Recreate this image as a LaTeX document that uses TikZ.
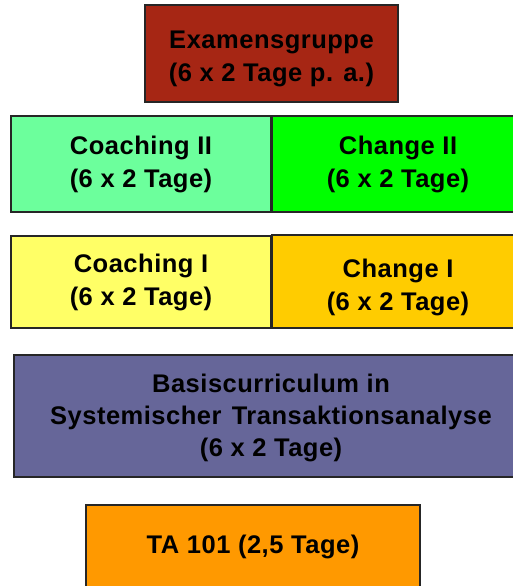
\documentclass[tikz,border=0pt]{standalone}
\usepackage{fontspec}
\setmainfont{Liberation Sans}[LetterSpace=2]
\definecolor{cExam}{RGB}{166,38,20}
\definecolor{cCoachII}{RGB}{108,255,156}
\definecolor{cChangeII}{RGB}{0,255,0}
\definecolor{cCoachI}{RGB}{255,255,102}
\definecolor{cChangeI}{RGB}{255,204,0}
\definecolor{cBasis}{RGB}{102,102,153}
\definecolor{cTA}{RGB}{255,153,0}
\tikzset{
  box/.style={draw=black!85, line width=1.5pt, inner sep=0pt, rectangle},
  txt/.style={align=center, inner sep=0pt, font=\fontsize{25.5}{33}\selectfont\bfseries},
}
\begin{document}
\begin{tikzpicture}[x=1pt,y=-1pt]
\useasboundingbox (0,0) rectangle (513,586);
\clip (0,0) rectangle (513,586);
\fill[white] (0,0) rectangle (513,586);
% boxes
\node[box, fill=cExam, minimum width=253pt, minimum height=97pt] (exam) at (271.5,53.5) {};
\node[box, fill=cCoachII, minimum width=260pt, minimum height=96pt] (coachII) at (141,164) {};
\node[box, fill=cChangeII, minimum width=252pt, minimum height=96pt] (changeII) at (398,164) {};
\node[box, fill=cCoachI, minimum width=260pt, minimum height=92pt] (coachI) at (141,282) {};
\node[box, fill=cChangeI, minimum width=252pt, minimum height=93pt] (changeI) at (398,281.5) {};
\node[box, fill=cBasis, minimum width=514pt, minimum height=122pt] (basis) at (271,416) {};
\node[box, fill=cTA, minimum width=334pt, minimum height=90pt] (ta) at (253,550) {};
% texts
\node[txt] (examT) at ([yshift=-5pt]exam.center) {Examensgruppe\\(6 x 2 Tage p. a.)};
\node[txt] (coachIIT) at (coachII.center) {Coaching II\\(6 x 2 Tage)};
\node[txt] (changeIIT) at (changeII.center) {Change II\\(6 x 2 Tage)};
\node[txt] (coachIT) at (coachI.center) {Coaching I\\(6 x 2 Tage)};
\node[txt] (changeIT) at ([yshift=-5.5pt]changeI.center) {Change I\\(6 x 2 Tage)};
\node[txt, font=\fontsize{25.5}{32}\selectfont\bfseries] (basisT) at ([yshift=-2pt]basis.center) {Basiscurriculum in\\Systemischer\hspace{0.4em}Transaktionsanalyse\\(6 x 2 Tage)};
\node[txt] (taT) at (253,547) {TA 101 (2,5 Tage)};
\end{tikzpicture}
\end{document}
